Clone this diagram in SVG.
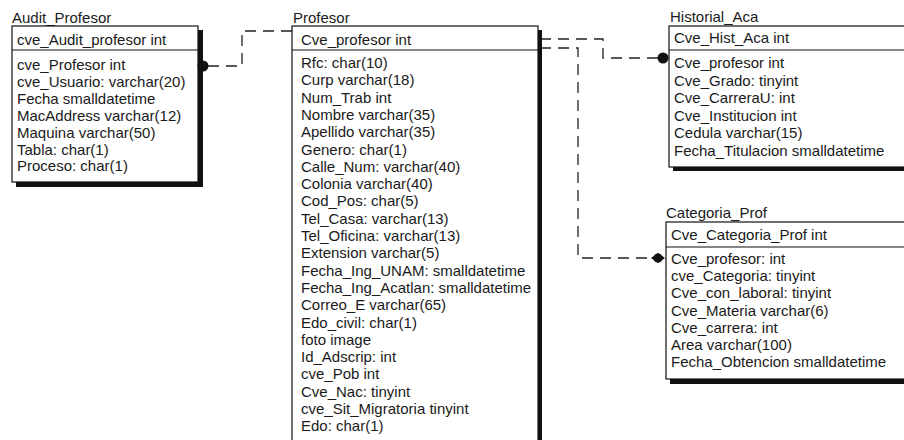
<svg xmlns="http://www.w3.org/2000/svg" width="904" height="440" viewBox="0 0 904 440">
<style>
text{font-family:"Liberation Sans",Arial,sans-serif;font-size:15px;fill:#1a1a1a}
.box{fill:#fff;stroke:#111;stroke-width:1.2}
.shadow{fill:#111}
.sep{stroke:#111;stroke-width:1.2}
.conn{fill:none;stroke:#222;stroke-width:1.3;stroke-dasharray:11 7}
.dot{fill:#111}
</style>
<rect width="904" height="440" fill="#fff"/>
<g id="connectors">
<path class="conn" d="M208 66 H242 V31 H292"/>
<path class="conn" d="M540 39 H603 V58 H658"/>
<path class="conn" d="M540 48 H578 V258 H654"/>
</g>
<g id="audit_profesor">
<text x="12" y="23">Audit_Profesor</text>
<rect class="shadow" x="16" y="30" width="187" height="157"/>
<rect class="box" x="12" y="26" width="186" height="156"/>
<line class="sep" x1="12" y1="50" x2="198" y2="50"/>
<text x="17" y="45">cve_Audit_profesor int</text>
<text x="17" y="70">cve_Profesor int</text>
<text x="17" y="86.9">cve_Usuario: varchar(20)</text>
<text x="17" y="103.8">Fecha smalldatetime</text>
<text x="17" y="120.7">MacAddress varchar(12)</text>
<text x="17" y="137.6">Maquina varchar(50)</text>
<text x="17" y="154.5">Tabla: char(1)</text>
<text x="17" y="171.4">Proceso: char(1)</text>
<circle class="dot" cx="203" cy="66" r="5.5"/>
</g>
<g id="profesor">
<text x="293" y="23">Profesor</text>
<rect class="shadow" x="296" y="30" width="246" height="420"/>
<rect class="box" x="292" y="26" width="246" height="420"/>
<line class="sep" x1="292" y1="50" x2="538" y2="50"/>
<text x="301" y="45">Cve_profesor int</text>
<text x="301" y="68">Rfc: char(10)</text>
<text x="301" y="85.3">Curp varchar(18)</text>
<text x="301" y="102.6">Num_Trab int</text>
<text x="301" y="119.9">Nombre varchar(35)</text>
<text x="301" y="137.2">Apellido varchar(35)</text>
<text x="301" y="154.5">Genero: char(1)</text>
<text x="301" y="171.8">Calle_Num: varchar(40)</text>
<text x="301" y="189.1">Colonia varchar(40)</text>
<text x="301" y="206.4">Cod_Pos: char(5)</text>
<text x="301" y="223.7">Tel_Casa: varchar(13)</text>
<text x="301" y="241">Tel_Oficina: varchar(13)</text>
<text x="301" y="258.3">Extension varchar(5)</text>
<text x="301" y="275.6">Fecha_Ing_UNAM: smalldatetime</text>
<text x="301" y="292.9">Fecha_Ing_Acatlan: smalldatetime</text>
<text x="301" y="310.2">Correo_E varchar(65)</text>
<text x="301" y="327.5">Edo_civil: char(1)</text>
<text x="301" y="344.8">foto image</text>
<text x="301" y="362.1">Id_Adscrip: int</text>
<text x="301" y="379.4">cve_Pob int</text>
<text x="301" y="396.7">Cve_Nac: tinyint</text>
<text x="301" y="414">cve_Sit_Migratoria tinyint</text>
<text x="301" y="431.3">Edo: char(1)</text>
</g>
<g id="historial_aca">
<text x="670" y="22">Historial_Aca</text>
<rect class="shadow" x="673" y="30" width="240" height="141"/>
<rect class="box" x="669" y="26" width="240" height="141"/>
<line class="sep" x1="669" y1="50" x2="909" y2="50"/>
<text x="674" y="43">Cve_Hist_Aca int</text>
<text x="674" y="68">Cve_profesor int</text>
<text x="674" y="85.5">Cve_Grado: tinyint</text>
<text x="674" y="103">Cve_CarreraU: int</text>
<text x="674" y="120.5">Cve_Institucion int</text>
<text x="674" y="138">Cedula varchar(15)</text>
<text x="674" y="155.5">Fecha_Titulacion smalldatetime</text>
<circle class="dot" cx="663" cy="58" r="5.5"/>
</g>
<g id="categoria_prof">
<text x="666" y="218">Categoria_Prof</text>
<rect class="shadow" x="670" y="226" width="240" height="158"/>
<rect class="box" x="666" y="222" width="240" height="157"/>
<line class="sep" x1="666" y1="247" x2="906" y2="247"/>
<text x="671" y="240">Cve_Categoria_Prof int</text>
<text x="671" y="264">Cve_profesor: int</text>
<text x="671" y="281.2">cve_Categoria: tinyint</text>
<text x="671" y="298.4">Cve_con_laboral: tinyint</text>
<text x="671" y="315.6">Cve_Materia varchar(6)</text>
<text x="671" y="332.8">Cve_carrera: int</text>
<text x="671" y="350">Area varchar(100)</text>
<text x="671" y="367.2">Fecha_Obtencion smalldatetime</text>
<path class="dot" d="M651 258 L658 253 L665 258 L658 263 Z"/>
<circle class="dot" cx="658" cy="258" r="4.5"/>
</g>
</svg>
